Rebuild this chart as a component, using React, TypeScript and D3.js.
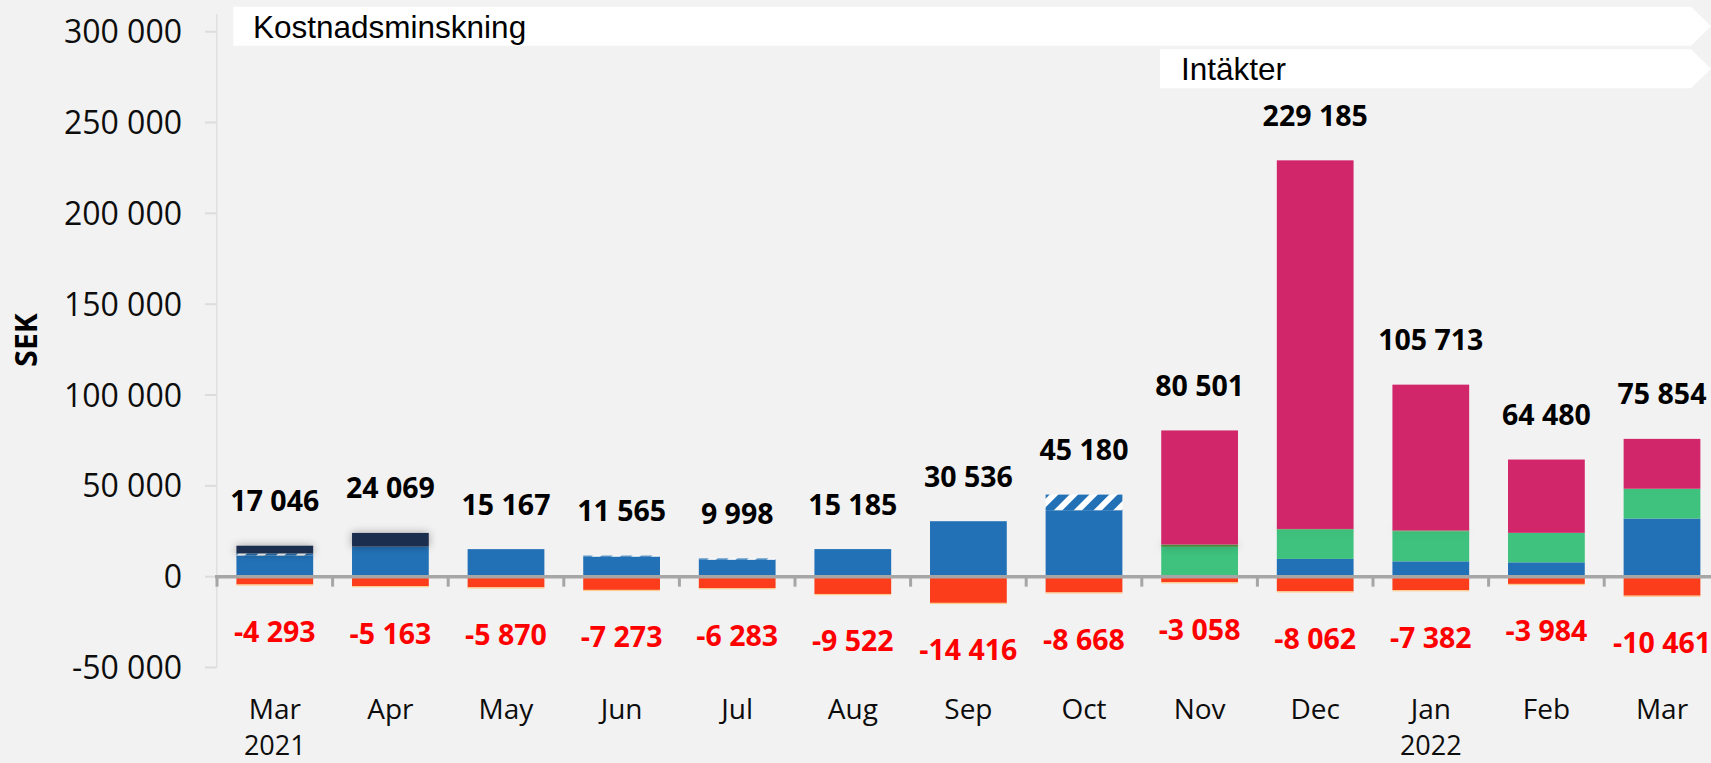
import React from "react";
import * as d3 from "d3";

const categories = ["Mar", "Apr", "May", "Jun", "Jul", "Aug", "Sep", "Oct", "Nov", "Dec", "Jan", "Feb", "Mar"];
const years = ["2021", "", "", "", "", "", "", "", "", "", "2022", "", ""];

// positive stack (bottom -> top)
const blue = [11700, 16550, 15167, 11100, 9400, 15185, 30536, 36600, 0, 9770, 8440, 7900, 32000];
const hatch = [1100, 0, 0, 465, 598, 0, 0, 8580, 0, 0, 0, 0, 0];
const navy = [4246, 7519, 0, 0, 0, 0, 0, 0, 0, 0, 0, 0, 0];
const green = [0, 0, 0, 0, 0, 0, 0, 0, 16400, 16200, 16560, 16220, 16400];
const darkGreen = [0, 0, 0, 0, 0, 0, 0, 0, 1300, 300, 400, 0, 0];
const magenta = [0, 0, 0, 0, 0, 0, 0, 0, 62801, 202915, 80313, 40360, 27454];
// negative stack (top -> bottom)
const negNavy = [0, 0, 0, 0, 0, 0, 0, 0, 0, 0, -800, 0, 0];
const red = [-4293, -5163, -5870, -7273, -6283, -9522, -14416, -8668, -3058, -8062, -6582, -3984, -10461];

const totals = [17046, 24069, 15167, 11565, 9998, 15185, 30536, 45180, 80501, 229185, 105713, 64480, 75854];
const negTotals = [-4293, -5163, -5870, -7273, -6283, -9522, -14416, -8668, -3058, -8062, -7382, -3984, -10461];

const yTicks = [-50000, 0, 50000, 100000, 150000, 200000, 250000, 300000];

const W = 1711;
const H = 763;

const keys = ["blue", "hatch", "navy", "green", "darkGreen", "magenta", "negNavy", "red"];
const colors: Record<string, string> = {
  blue: "#2271B6",
  hatch: "url(#hatchPat)",
  navy: "#1F2F4E",
  green: "#3EC27D",
  darkGreen: "#4B8A3C",
  magenta: "#D1266A",
  negNavy: "#1F2F4E",
  red: "#FC3D1B",
};
const shadowKeys = new Set(["navy", "darkGreen", "negNavy"]);

const locale = d3.formatLocale({ decimal: ",", thousands: " ", grouping: [3], currency: ["", ""], minus: "-" });
const fmt = locale.format(",d");

export default function App() {
  const rows = categories.map((c, i) => ({
    idx: String(i),
    blue: blue[i],
    hatch: hatch[i],
    navy: navy[i],
    green: green[i],
    darkGreen: darkGreen[i],
    magenta: magenta[i],
    negNavy: negNavy[i],
    red: red[i],
  }));

  const x = d3
    .scaleBand<string>()
    .domain(categories.map((_, i) => String(i)))
    .range([217, 217 + 13 * 115.6])
    .paddingInner(0.336)
    .paddingOuter(0.168);
  const y = d3.scaleLinear().domain([-50000, 300000]).range([667.5, 31.7]);

  const stack = d3.stack<any>().keys(keys).offset(d3.stackOffsetDiverging);
  const series = stack(rows);

  const bw = x.bandwidth();
  const step = x.step();
  const x0 = x.range()[0];
  const y0 = y(0);

  return (
    <svg
      width={W}
      height={H}
      style={{ position: "absolute", left: 0, top: 0, background: "#F2F2F2" }}
    >
      <defs>
        <pattern id="hatchPat" width={14} height={14} patternUnits="userSpaceOnUse" patternTransform="rotate(45)">
          <rect width={14} height={14} fill="#2271B6" />
          <rect width={6} height={14} fill="#FFFFFF" />
        </pattern>
        <filter id="shadow" x="-20%" y="-100%" width="140%" height="300%">
          <feDropShadow dx={0} dy={0} stdDeviation={4} floodColor="#000" floodOpacity={0.35} />
        </filter>
      </defs>
      <rect x={0} y={0} width={W} height={H} fill="#F2F2F2" />

      {/* banners */}
      <polygon points="233.3,6.7 1691,6.7 1711,26.2 1691,45.7 233.3,45.7" fill="#FFFFFF" />
      <text x={253} y={37.7} fontFamily="'Liberation Sans', Arial, sans-serif" fontSize={31.5} fill="#000">
        Kostnadsminskning
      </text>
      <polygon points="1160,49.3 1691,49.3 1711,68.8 1691,88.3 1160,88.3" fill="#FFFFFF" />
      <text x={1181} y={80.3} fontFamily="'Liberation Sans', Arial, sans-serif" fontSize={31.5} fill="#000">
        Intäkter
      </text>

      {/* y axis */}
      <line x1={216.7} x2={216.7} y1={14} y2={y(-50000)} stroke="#E0E0E0" strokeWidth={1.5} />
      {yTicks.map((t) => (
        <g key={t}>
          <line x1={205} x2={216.7} y1={y(t)} y2={y(t)} stroke="#DCDCDC" strokeWidth={2} />
          <text
            x={182}
            y={y(t) + 11.5}
            textAnchor="end"
            fontFamily="'Open Sans', sans-serif"
            fontSize={32}
            fill="#0D0D0D"
          >
            {fmt(t)}
          </text>
        </g>
      ))}
      <text
        transform={`translate(${37},${340}) rotate(-90)`}
        textAnchor="middle"
        fontFamily="'Open Sans', sans-serif"
        fontWeight={700}
        fontSize={30}
        fill="#000"
      >
        SEK
      </text>

      {/* bars */}
      {series.map((s) => (
        <g key={s.key} fill={colors[s.key]} filter={shadowKeys.has(s.key) ? "url(#shadow)" : undefined}>
          {s.map((d, i) => {
            const top = Math.min(y(d[0]), y(d[1]));
            const h = Math.abs(y(d[0]) - y(d[1]));
            if (h < 0.01) return null;
            return <rect key={i} x={x(String(i))} y={top} width={bw} height={h} />;
          })}
        </g>
      ))}
      {/* thin light edge under negative bars */}
      {negTotals.map((v, i) => (
        <rect key={"edge" + i} x={x(String(i))} y={y(v)} width={bw} height={1.2} fill="#FFCB8C" />
      ))}

      {/* zero line + category ticks */}
      <line x1={215} x2={W} y1={y0} y2={y0} stroke="#A6A6A6" strokeWidth={3.5} />
      {d3.range(14).map((k) => (
        <line key={k} x1={x0 + k * step} x2={x0 + k * step} y1={y0} y2={y0 + 10} stroke="#A6A6A6" strokeWidth={3} />
      ))}

      {/* total labels */}
      {totals.map((v, i) => (
        <text
          key={"t" + i}
          x={(x(String(i)) as number) + bw / 2}
          y={y(v) - 34.5}
          textAnchor="middle"
          fontFamily="'Open Sans', sans-serif"
          fontWeight={700}
          fontSize={28.5}
          fill="#000"
        >
          {fmt(v)}
        </text>
      ))}
      {negTotals.map((v, i) => (
        <text
          key={"n" + i}
          x={(x(String(i)) as number) + bw / 2}
          y={y(v) + 57.5}
          textAnchor="middle"
          fontFamily="'Open Sans', sans-serif"
          fontWeight={700}
          fontSize={28.5}
          fill="#FF0000"
        >
          {fmt(v)}
        </text>
      ))}

      {/* category labels */}
      {categories.map((c, i) => (
        <g key={"c" + i}>
          <text
            x={(x(String(i)) as number) + bw / 2}
            y={719}
            textAnchor="middle"
            fontFamily="'Open Sans', sans-serif"
            fontSize={28}
            fill="#0D0D0D"
          >
            {c}
          </text>
          {years[i] && (
            <text
              x={(x(String(i)) as number) + bw / 2}
              y={755}
              textAnchor="middle"
              fontFamily="'Open Sans', sans-serif"
              fontSize={27}
              fill="#0D0D0D"
            >
              {years[i]}
            </text>
          )}
        </g>
      ))}
    </svg>
  );
}
